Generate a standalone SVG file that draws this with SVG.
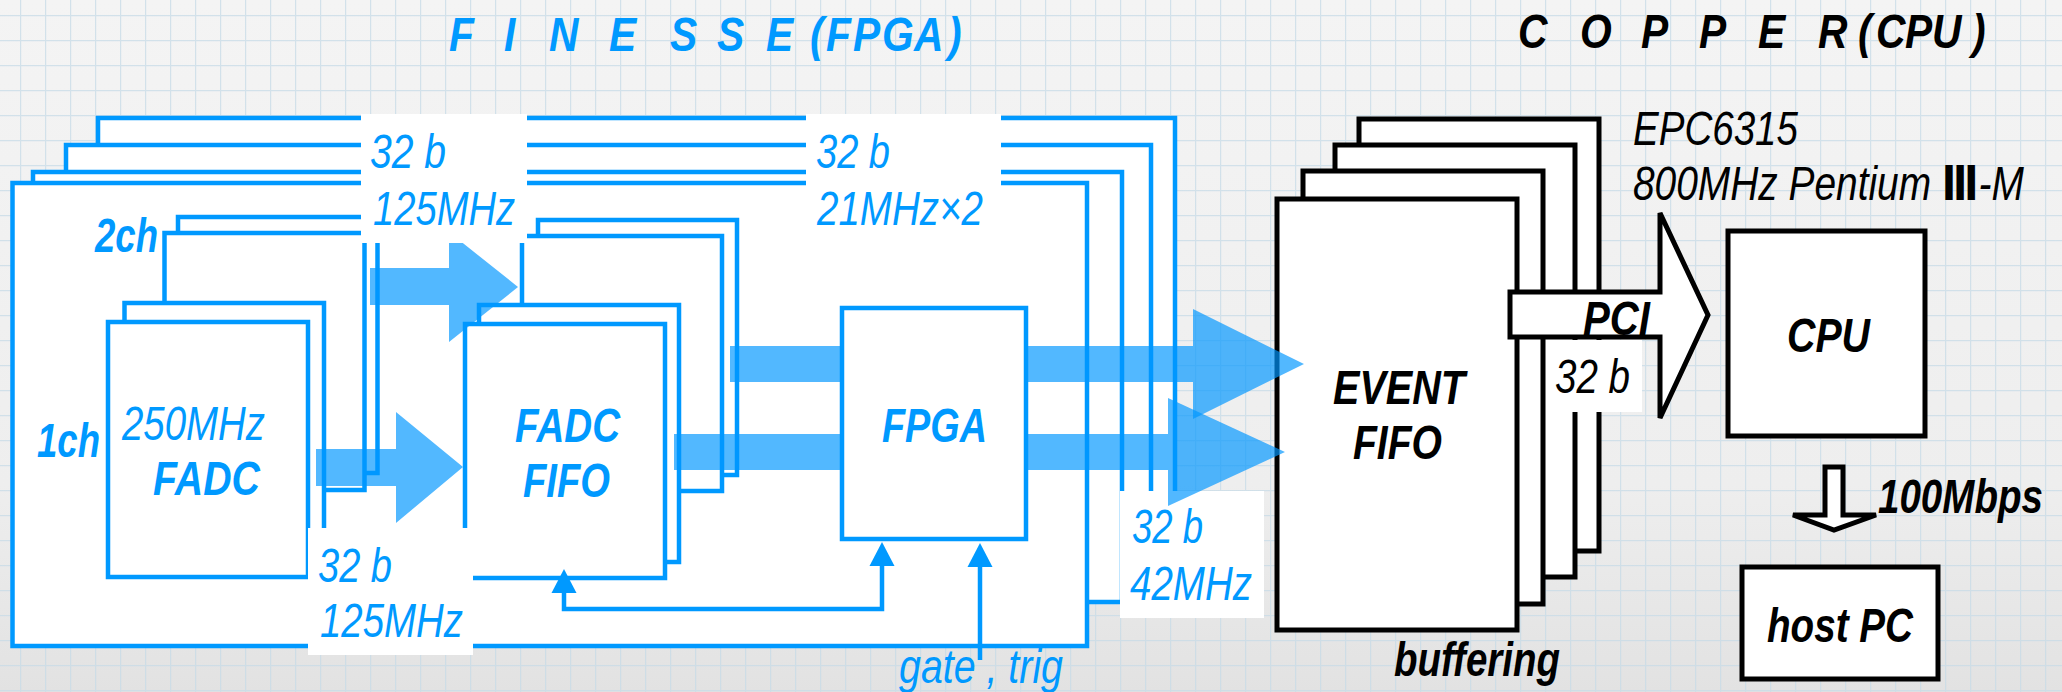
<svg xmlns="http://www.w3.org/2000/svg" width="2062" height="692" viewBox="0 0 2062 692">
<defs>
<linearGradient id="bgg" x1="0" y1="0" x2="0" y2="1">
<stop offset="0" stop-color="#f4f4f4"/><stop offset="0.7" stop-color="#eeeeee"/><stop offset="1" stop-color="#e2e2e2"/>
</linearGradient>
<pattern id="grid" patternUnits="userSpaceOnUse" x="20" y="15" width="25" height="25">
<path d="M0.6 0V25M0 0.6H25" stroke="#c6dbe6" stroke-width="1.2" fill="none" opacity="0.75"/>
</pattern>
<marker id="ah" markerUnits="userSpaceOnUse" viewBox="-2 -14 28 28" refX="0" refY="0" markerWidth="28" markerHeight="28" orient="auto-start-reverse">
<path d="M0 -12.5L24 0L0 12.5Z" fill="#0099ff"/>
</marker>
<style>
.bl{fill:#fff;stroke:#0099ff;stroke-width:4.5}
.bk{fill:#fff;stroke:#000;stroke-width:5;stroke-linejoin:miter}
.lbl{fill:#fff}
.ln{fill:none;stroke:#0099ff;stroke-width:4.5}
.fat{fill:#0096ff;fill-opacity:0.68}
.t{font-family:"Liberation Sans",Arial,sans-serif;font-style:italic;font-size:48px}
.tb{fill:#0099ff}
.tk{fill:#000}
.bd{font-weight:bold}
</style>
</defs>

<rect width="2062" height="692" fill="url(#bgg)"/>
<rect width="2062" height="692" fill="url(#grid)"/>

<g id="title-finesse">
<text class="t tb bd" font-size="46" transform="scale(0.85 1)" x="528.2 558.8 592.9 617.6 645.9 682.4 716.5 752.9 788.2 823.5 843.5 876.5 901.2 930 952.9 962.4 971.8 1003.5 1037.6 1075.3 1115.3" y="51">F I N E S S E ( FPGA)</text>
</g>
<g id="title-copper">
<text class="t tk bd" font-size="45" transform="scale(0.85 1)" x="1785.9 1823.5 1858.8 1894.1 1930.6 1964.7 1998.8 2035.3 2068.2 2105.9 2138.8 2170.6 2185.9 2197.6 2207.1 2241.2 2272.9 2305.9 2320" y="48">C O P P E R ( CPU )</text>
</g>

<g id="finesse-board-4"><rect class="bl" x="98" y="118" width="1077" height="432"/></g>
<g id="finesse-board-3"><rect class="bl" x="66" y="145" width="1085" height="430"/></g>
<g id="finesse-board-2"><rect class="bl" x="33" y="172" width="1089" height="430"/></g>
<g id="finesse-board-1"><rect class="bl" x="12.5" y="183" width="1074.5" height="463"/></g>

<g id="fadc-2ch-back"><rect class="bl" x="178" y="217" width="199.5" height="256"/></g>
<g id="fadc-2ch-front"><rect class="bl" x="164.5" y="233" width="200" height="257"/></g>
<g id="fadc-1ch-back"><rect class="bl" x="124.5" y="303" width="199.5" height="257"/></g>
<g id="fadc-1ch-front"><rect class="bl" x="108" y="322" width="200" height="255"/>
<text class="t tb" x="122" y="440" textLength="143" lengthAdjust="spacingAndGlyphs">250MHz</text>
<text class="t tb bd" x="153" y="495" textLength="107" lengthAdjust="spacingAndGlyphs">FADC</text>
</g>
<g id="label-2ch"><text class="t tb bd" x="95" y="252" textLength="63" lengthAdjust="spacingAndGlyphs">2ch</text></g>
<g id="label-1ch"><text class="t tb bd" x="37" y="457" textLength="63" lengthAdjust="spacingAndGlyphs">1ch</text></g>

<g id="fifo-2ch-back"><rect class="bl" x="538" y="220" width="199" height="255"/></g>
<g id="fifo-2ch-front"><rect class="bl" x="522" y="236" width="200" height="255"/></g>
<g id="fifo-1ch-back"><rect class="bl" x="479" y="305" width="200" height="257"/></g>
<g id="fifo-1ch-front"><rect class="bl" x="465" y="324" width="200" height="254"/>
<text class="t tb bd" x="515" y="442" textLength="105" lengthAdjust="spacingAndGlyphs">FADC</text>
<text class="t tb bd" x="523" y="497" textLength="87" lengthAdjust="spacingAndGlyphs">FIFO</text>
</g>

<g id="event-fifo-4"><rect class="bk" x="1359" y="119" width="240" height="432"/></g>
<g id="event-fifo-3"><rect class="bk" x="1335" y="145" width="240" height="432"/></g>
<g id="event-fifo-2"><rect class="bk" x="1303" y="171" width="240" height="433"/></g>
<g id="event-fifo-1"><rect class="bk" x="1277" y="199" width="240" height="431"/>
<text class="t tk bd" x="1333" y="404" textLength="132" lengthAdjust="spacingAndGlyphs">EVENT</text>
<text class="t tk bd" x="1353" y="459" textLength="89" lengthAdjust="spacingAndGlyphs">FIFO</text>
</g>
<g id="label-buffering"><text class="t tk bd" x="1394" y="676" textLength="166" lengthAdjust="spacingAndGlyphs">buffering</text></g>

<g id="label-42mhz">
<rect class="lbl" x="1120" y="491" width="144" height="127"/>
<text class="t tb" x="1132" y="543" textLength="71" lengthAdjust="spacingAndGlyphs">32 b</text>
<text class="t tb" x="1130" y="600" textLength="122" lengthAdjust="spacingAndGlyphs">42MHz</text>
</g>

<g id="label-pci-32b">
<rect class="lbl" x="1546" y="340" width="96" height="72"/>
<text class="t tk" font-size="44" x="1555" y="393" textLength="75" lengthAdjust="spacingAndGlyphs">32 b</text>
</g>

<g id="cpu"><rect class="bk" x="1728" y="231" width="197" height="205"/>
<text class="t tk bd" x="1787" y="352" textLength="83" lengthAdjust="spacingAndGlyphs">CPU</text>
</g>
<g id="host-pc"><rect class="bk" x="1742" y="567" width="196" height="112"/>
<text class="t tk bd" x="1767" y="642" textLength="146" lengthAdjust="spacingAndGlyphs">host PC</text>
</g>
<g id="label-epc">
<text class="t tk" x="1633" y="145" textLength="165" lengthAdjust="spacingAndGlyphs">EPC6315</text>
<text class="t tk" transform="translate(1633 200) scale(0.81 1)" x="0" y="0">800MHz Pentium <tspan font-style="normal" font-weight="bold" font-family="DejaVu Sans, sans-serif">Ⅲ</tspan>-M</text>
</g>
<g id="label-100mbps"><text class="t tk bd" transform="translate(1878 513) scale(0.803 1)" x="0" y="0">100Mbps</text></g>

<g id="connectors">
<path class="ln" d="M564 593V609H882V566" marker-start="url(#ah)" marker-end="url(#ah)"/>
<path class="ln" d="M980 660V567" marker-end="url(#ah)"/>
<path class="fat" d="M370 268H449V232L518 287L449 342V305H370Z"/>
<path class="fat" d="M316 449H396V412L463 467L396 523V486H316Z"/>
<path class="fat" d="M730 346H1193V309L1304 364L1193 419V382H730Z"/>
<path class="fat" d="M674 434H1168V398L1285 452L1168 506V470H674Z"/>
<path class="bk" d="M1510 292H1660V213L1708 315L1660 418V337H1510Z"/>
<path class="bk" d="M1825 467H1843V515H1876L1834 530L1793 515H1825Z"/>
</g>
<g id="label-pci"><text class="t tk bd" x="1583" y="335" textLength="67" lengthAdjust="spacingAndGlyphs">PCI</text></g>

<g id="fpga"><rect class="bl" x="842" y="308" width="184" height="231"/>
<text class="t tb bd" x="882" y="442" textLength="105" lengthAdjust="spacingAndGlyphs">FPGA</text>
</g>

<g id="label-125mhz-top">
<rect class="lbl" x="361" y="114" width="166" height="129"/>
<text class="t tb" x="370" y="168" textLength="76" lengthAdjust="spacingAndGlyphs">32 b</text>
<text class="t tb" x="373" y="225" textLength="142" lengthAdjust="spacingAndGlyphs">125MHz</text>
</g>
<g id="label-21mhz">
<rect class="lbl" x="806" y="114" width="195" height="128"/>
<text class="t tb" x="816" y="168" textLength="74" lengthAdjust="spacingAndGlyphs">32 b</text>
<text class="t tb" x="817" y="225" textLength="166" lengthAdjust="spacingAndGlyphs">21MHz×2</text>
</g>
<g id="label-125mhz-bottom">
<rect class="lbl" x="308" y="528" width="165" height="127"/>
<text class="t tb" x="318" y="582" textLength="74" lengthAdjust="spacingAndGlyphs">32 b</text>
<text class="t tb" x="320" y="637" textLength="143" lengthAdjust="spacingAndGlyphs">125MHz</text>
</g>
<g id="label-gate-trig"><text class="t tb" font-size="46" x="899" y="683" textLength="164" lengthAdjust="spacingAndGlyphs">gate , trig</text></g>
</svg>
